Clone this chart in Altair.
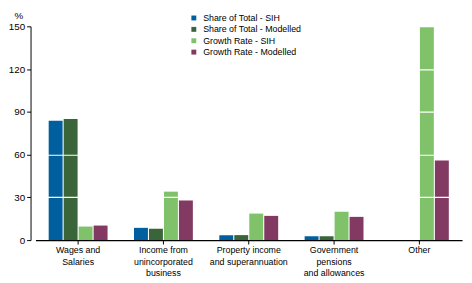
import altair as alt
import pandas as pd

categories = ["Wages and|Salaries", "Income from|unincorporated|business",
              "Property income|and superannuation", "Government|pensions|and allowances", "Other"]
series = ["Share of Total - SIH", "Share of Total - Modelled", "Growth Rate - SIH", "Growth Rate - Modelled"]
share_sih = [83.7, 8.6, 3.4, 2.7, None]
share_modelled = [84.9, 7.9, 3.5, 2.7, None]
growth_sih = [9.5, 34.0, 18.6, 19.9, 149.4]
growth_modelled = [10.2, 27.8, 17.0, 16.3, 55.9]
colors = ["#00609F", "#3A643A", "#80C26A", "#833A62"]
y_ticks = [0, 30, 60, 90, 120, 150]

rows = []
for s, vals in zip(series, [share_sih, share_modelled, growth_sih, growth_modelled]):
    for c, v in zip(categories, vals):
        if v is not None:
            rows.append({"category": c, "series": s, "value": v})
df = pd.DataFrame(rows)

FONT = "Liberation Sans"

chart = alt.Chart(df).mark_bar().encode(
    x=alt.X("category:N", sort=categories,
            scale=alt.Scale(paddingInner=0.31, paddingOuter=0.155),
            axis=alt.Axis(title=None, labelAngle=0, labelExpr="split(datum.label, '|')",
                          labelFontSize=9, labelFont=FONT, labelColor="#000",
                          labelLineHeight=11.5, labelPadding=2, tickSize=4,
                          tickColor="#000", domainColor="#000", domainWidth=1.2,
                          labelBaseline="top", zindex=2)),
    xOffset=alt.XOffset("series:N", sort=series,
                        scale=alt.Scale(domain=series, paddingInner=0.07, paddingOuter=0)),
    y=alt.Y("value:Q",
            scale=alt.Scale(domain=[0, 150], nice=False),
            axis=alt.Axis(title="%", titleAngle=0, titleAlign="right", titleX=-8, titleY=-8,
                          titleBaseline="alphabetic", titleFont=FONT, titleFontSize=10,
                          titleFontWeight="normal", titleColor="#000",
                          values=y_ticks, labelFontSize=10, labelFont=FONT, labelColor="#000",
                          labelPadding=2, tickSize=4, tickColor="#000",
                          domainColor="#000", offset=5,
                          grid=True, gridColor="white", gridWidth=1.2, zindex=1,
                          gridOpacity={"condition": {"test": "datum.value >= 150 || datum.value <= 0",
                                                     "value": 0}, "value": 1})),
    color=alt.Color("series:N", sort=series,
                    scale=alt.Scale(domain=series, range=colors),
                    legend=alt.Legend(title=None, orient="none", legendX=157, legendY=-13,
                                      symbolType="square", symbolSize=25,
                                      symbolStrokeWidth=0, labelFont=FONT,
                                      labelFontSize=9, labelColor="#000",
                                      rowPadding=1.6, labelOffset=5)),
).properties(
    width=435, height=218, padding={"left": 0, "top": 0, "right": 2, "bottom": 0}
).configure_view(stroke=None).configure_axisX(grid=False)

chart.save("out.html", embed_options={"renderer": "svg", "actions": False})
